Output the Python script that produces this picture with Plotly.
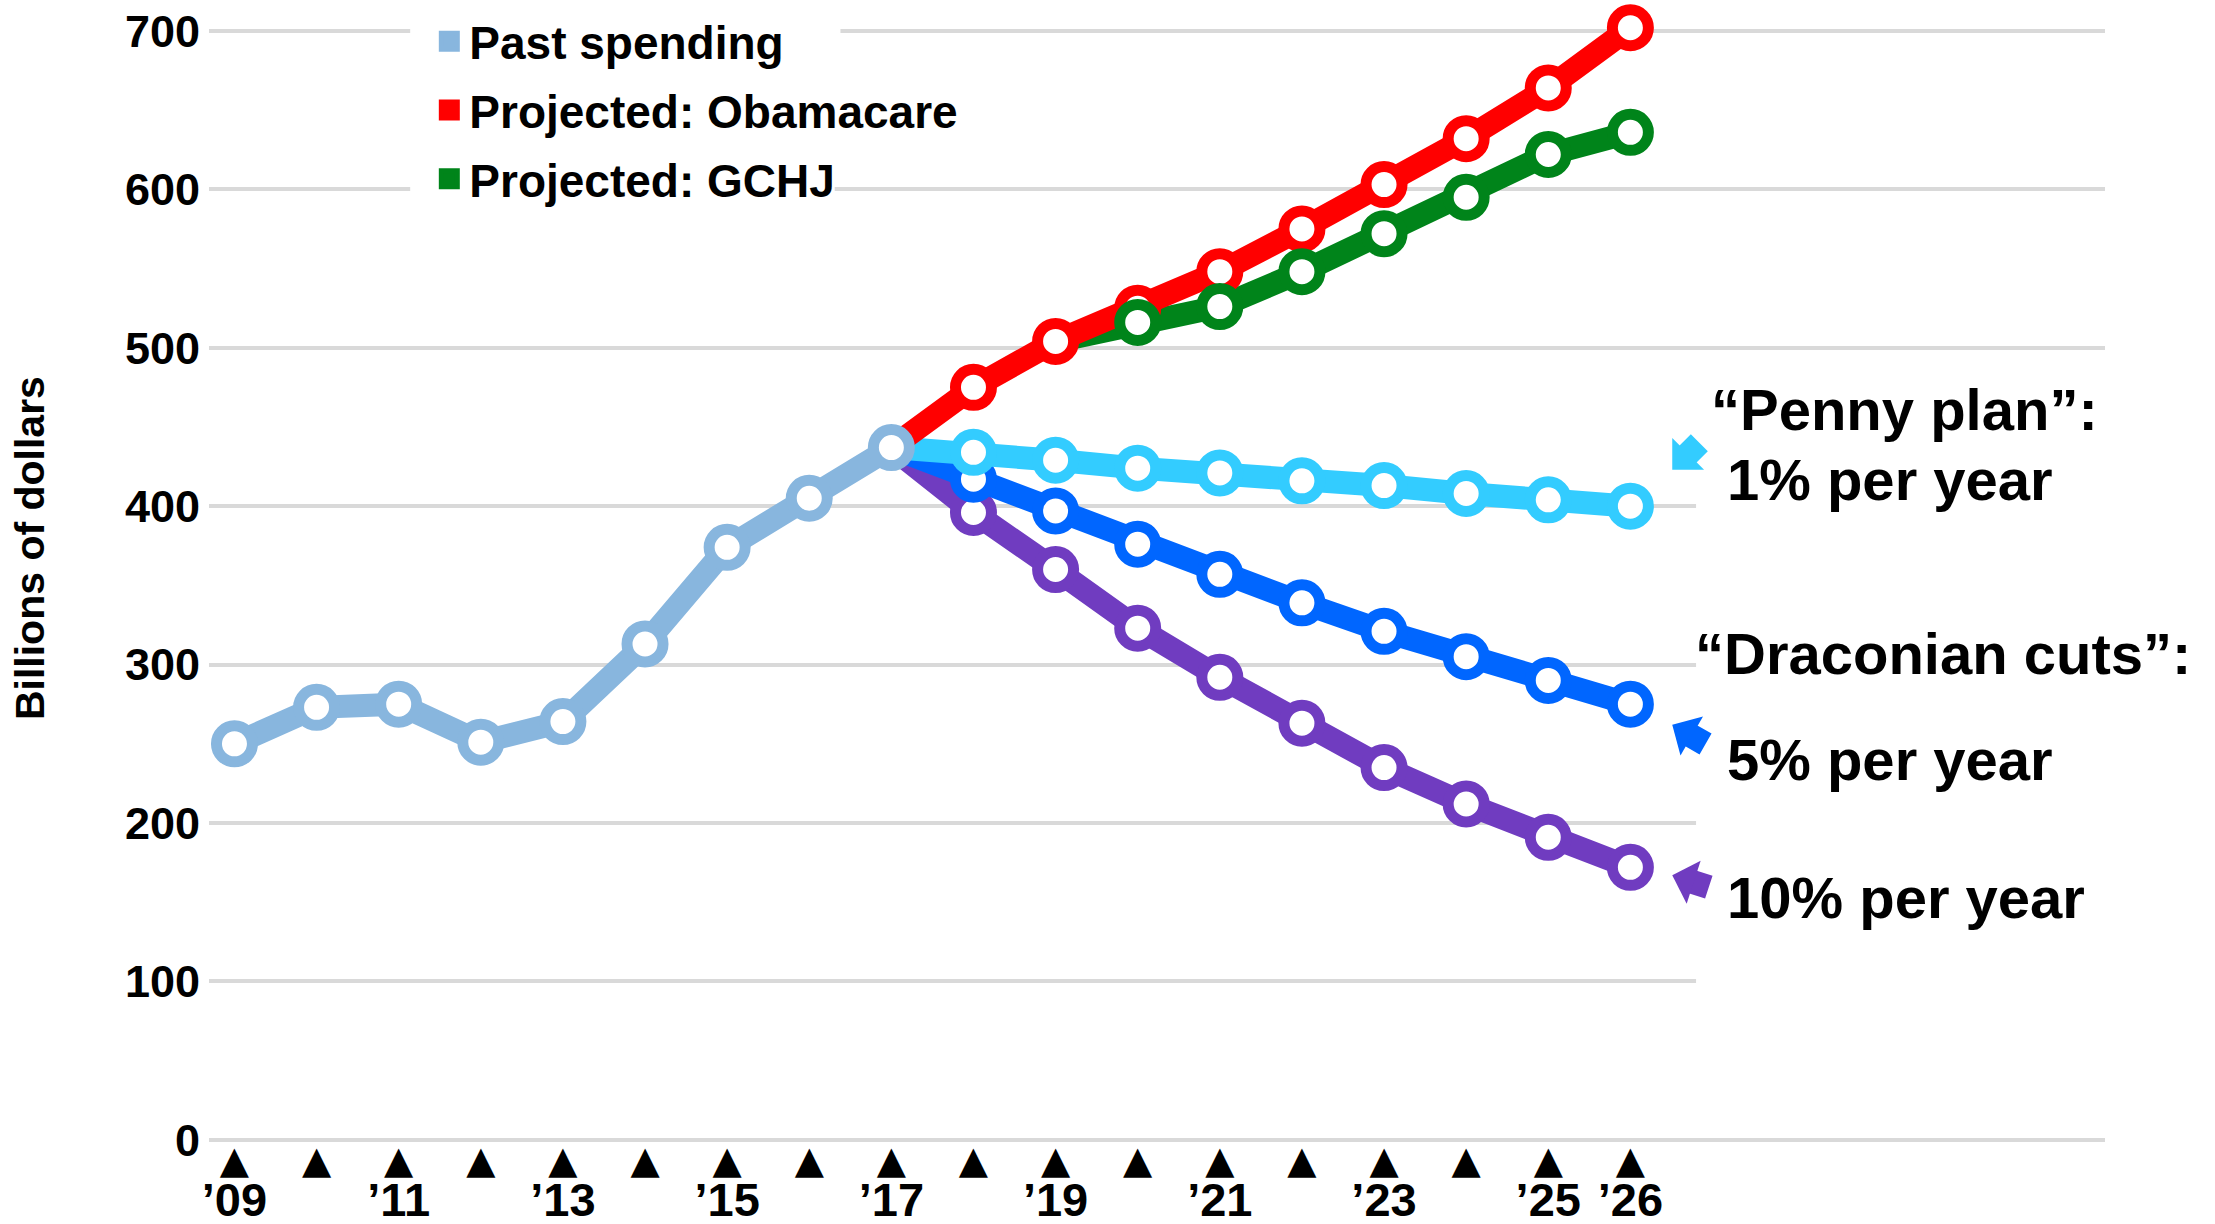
import plotly.graph_objects as go

# data (billions of dollars)
past_years = [2009, 2010, 2011, 2012, 2013, 2014, 2015, 2016, 2017]
past_spending = [250, 273, 275, 251, 264, 313, 374, 405, 437]

proj_years = [2017, 2018, 2019, 2020, 2021, 2022, 2023, 2024, 2025, 2026]
obamacare = [437, 475, 504, 525, 548, 575, 603, 632, 664, 702]
penny_plan = [437, 434, 429, 424, 421, 416, 413, 408, 404, 400]
cuts_5 = [437, 417, 397, 376, 357, 339, 321, 305, 290, 275]
cuts_10 = [437, 396, 360, 323, 292, 263, 235, 212, 191, 172]

gchj_years = [2019, 2020, 2021, 2022, 2023, 2024, 2025, 2026]
gchj = [504, 516, 526, 548, 572, 595, 622, 636]

all_years = list(range(2009, 2027))
year_labels = {2009: "’09", 2011: "’11", 2013: "’13", 2015: "’15", 2017: "’17",
               2019: "’19", 2021: "’21", 2023: "’23", 2025: "’25", 2026: "’26"}
y_ticks = [0, 100, 200, 300, 400, 500, 600, 700]

C_PAST = "#88b6de"
C_RED = "#ff0000"
C_GREEN = "#00841a"
C_PENNY = "#33ccff"
C_5 = "#0066ff"
C_10 = "#703cc0"

FONT = "Liberation Sans"
X_RANGE = [2008.69, 2031.78]
Y_RANGE = [-2, 705]
PX_PER_YEAR = 82.1   # plot width 1896px / x span
PX_PER_UNIT = 1.584  # plot height 1120px / y span


def series(x, y, color, mode="lines+markers", hide_first=True):
    op = [0 if (hide_first and i == 0) else 1 for i in range(len(x))]
    return go.Scatter(
        x=x, y=y, mode=mode, showlegend=False, cliponaxis=False,
        line=dict(color=color, width=23),
        marker=dict(size=36, color="white", opacity=op,
                    line=dict(color=color, width=11)),
        hoverinfo="x+y",
    )


fig = go.Figure()

# projections first, past spending on top
fig.add_trace(series(proj_years, cuts_10, C_10))
fig.add_trace(series(proj_years, cuts_5, C_5))
fig.add_trace(series(proj_years, penny_plan, C_PENNY))
fig.add_trace(series(gchj_years, gchj, C_GREEN, mode="lines"))
fig.add_trace(series(proj_years, obamacare, C_RED))
fig.add_trace(series(gchj_years, gchj, C_GREEN, mode="markers"))
fig.add_trace(series(past_years, past_spending, C_PAST, hide_first=False))

# legend-only entries with square swatches
for rank, (name, color) in enumerate([("Past spending", C_PAST),
                                      ("Projected: Obamacare", C_RED),
                                      ("Projected: GCHJ", C_GREEN)]):
    fig.add_trace(go.Scatter(
        x=[None], y=[None], mode="markers", name=name, legendrank=rank + 1,
        legendgroup=name,
        marker=dict(symbol="square", size=16, color=color,
                    line=dict(color=color, width=5)),
    ))

# dummy trace so the triangle tick axis gets drawn
fig.add_trace(go.Scatter(x=all_years, y=[None] * len(all_years), xaxis="x2",
                         showlegend=False, hoverinfo="skip"))

# blank out gridlines behind the right-hand notes and the legend rows
white_boxes = [(2026.8, X_RANGE[1], 50, 450),
               (2011.14, 2016.38, 697, 703),
               (2011.14, 2016.31, 597, 603)]
for x0, x1, y0, y1 in white_boxes:
    fig.add_shape(type="rect", layer="between", xref="x", yref="y",
                  x0=x0, x1=x1, y0=y0, y1=y1,
                  fillcolor="white", line=dict(width=0))

notes = [
    ("“Penny plan”:", 2026.96, 461),
    ("1% per year", 2027.15, 417),
    ("“Draconian cuts”:", 2026.76, 307),
    ("5% per year", 2027.15, 240),
    ("10% per year", 2027.15, 153),
]
for text, x, y in notes:
    fig.add_annotation(x=x, y=y, text=text, showarrow=False, xanchor="left",
                       yanchor="middle",
                       font=dict(family=FONT, size=58, color="black", weight="bold"))


def block_arrow(tip_x, tip_y, ux, uy, color):
    # thick stem (no head) ending inside the head, then a big head on a thin line
    sx = tip_x + 17 * ux / PX_PER_YEAR
    sy = tip_y - 17 * uy / PX_PER_UNIT
    fig.add_annotation(x=sx, y=sy, ax=22 * ux, ay=22 * uy, text="", showarrow=True,
                       font=dict(size=1), borderpad=0,
                       arrowhead=0, arrowwidth=24, arrowcolor=color)
    fig.add_annotation(x=tip_x, y=tip_y, ax=18 * ux, ay=18 * uy, text="", showarrow=True,
                       font=dict(size=1), borderpad=0,
                       arrowhead=1, arrowsize=2.5, arrowwidth=3, arrowcolor=color)


block_arrow(2026.51, 423, 0.707, -0.707, C_PENNY)
block_arrow(2026.51, 262, 0.866, 0.5, C_5)
block_arrow(2026.51, 167, 0.95, 0.31, C_10)

fig.add_annotation(xref="paper", yref="paper", x=-0.094, y=0.531,
                   text="Billions of dollars", textangle=-90, showarrow=False,
                   xanchor="center", yanchor="middle",
                   font=dict(family=FONT, size=41, color="black", weight="bold"))

fig.update_layout(
    width=2215, height=1224,
    margin=dict(l=209, r=110, t=23, b=81, autoexpand=False),
    plot_bgcolor="white", paper_bgcolor="white",
    font=dict(family=FONT, color="black", weight="bold"),
    legend=dict(x=0.1162, y=1.0162, xanchor="left", yanchor="top",
                bgcolor="rgba(0,0,0,0)", tracegroupgap=6,
                font=dict(family=FONT, size=46, color="black", weight="bold")),
    xaxis=dict(range=X_RANGE, showgrid=False, zeroline=False, showline=False,
               automargin=False,
               tickvals=list(year_labels.keys()), ticktext=list(year_labels.values()),
               ticks="", ticklabelstandoff=25,
               tickfont=dict(family=FONT, size=47, color="black", weight="bold")),
    xaxis2=dict(range=X_RANGE, overlaying="x", side="bottom", anchor="y",
                showgrid=False, zeroline=False, showline=False, automargin=False,
                tickvals=all_years, ticktext=["▲"] * len(all_years), ticks="",
                ticklabelstandoff=-9,
                tickfont=dict(family="DejaVu Sans", size=38, color="black")),
    yaxis=dict(range=Y_RANGE, tickvals=y_ticks, showgrid=True, gridcolor="#d9d9d9",
               gridwidth=4, zeroline=False, showline=False, ticks="",
               automargin=False, ticklabelstandoff=8,
               tickfont=dict(family=FONT, size=45, color="black", weight="bold")),
    hovermode="closest",
)

# the default page has an 8px body margin; drop it so the figure fills the window
fig.write_html("out.html", config={"displayModeBar": False},
               post_script="document.body.style.margin='0px';")
